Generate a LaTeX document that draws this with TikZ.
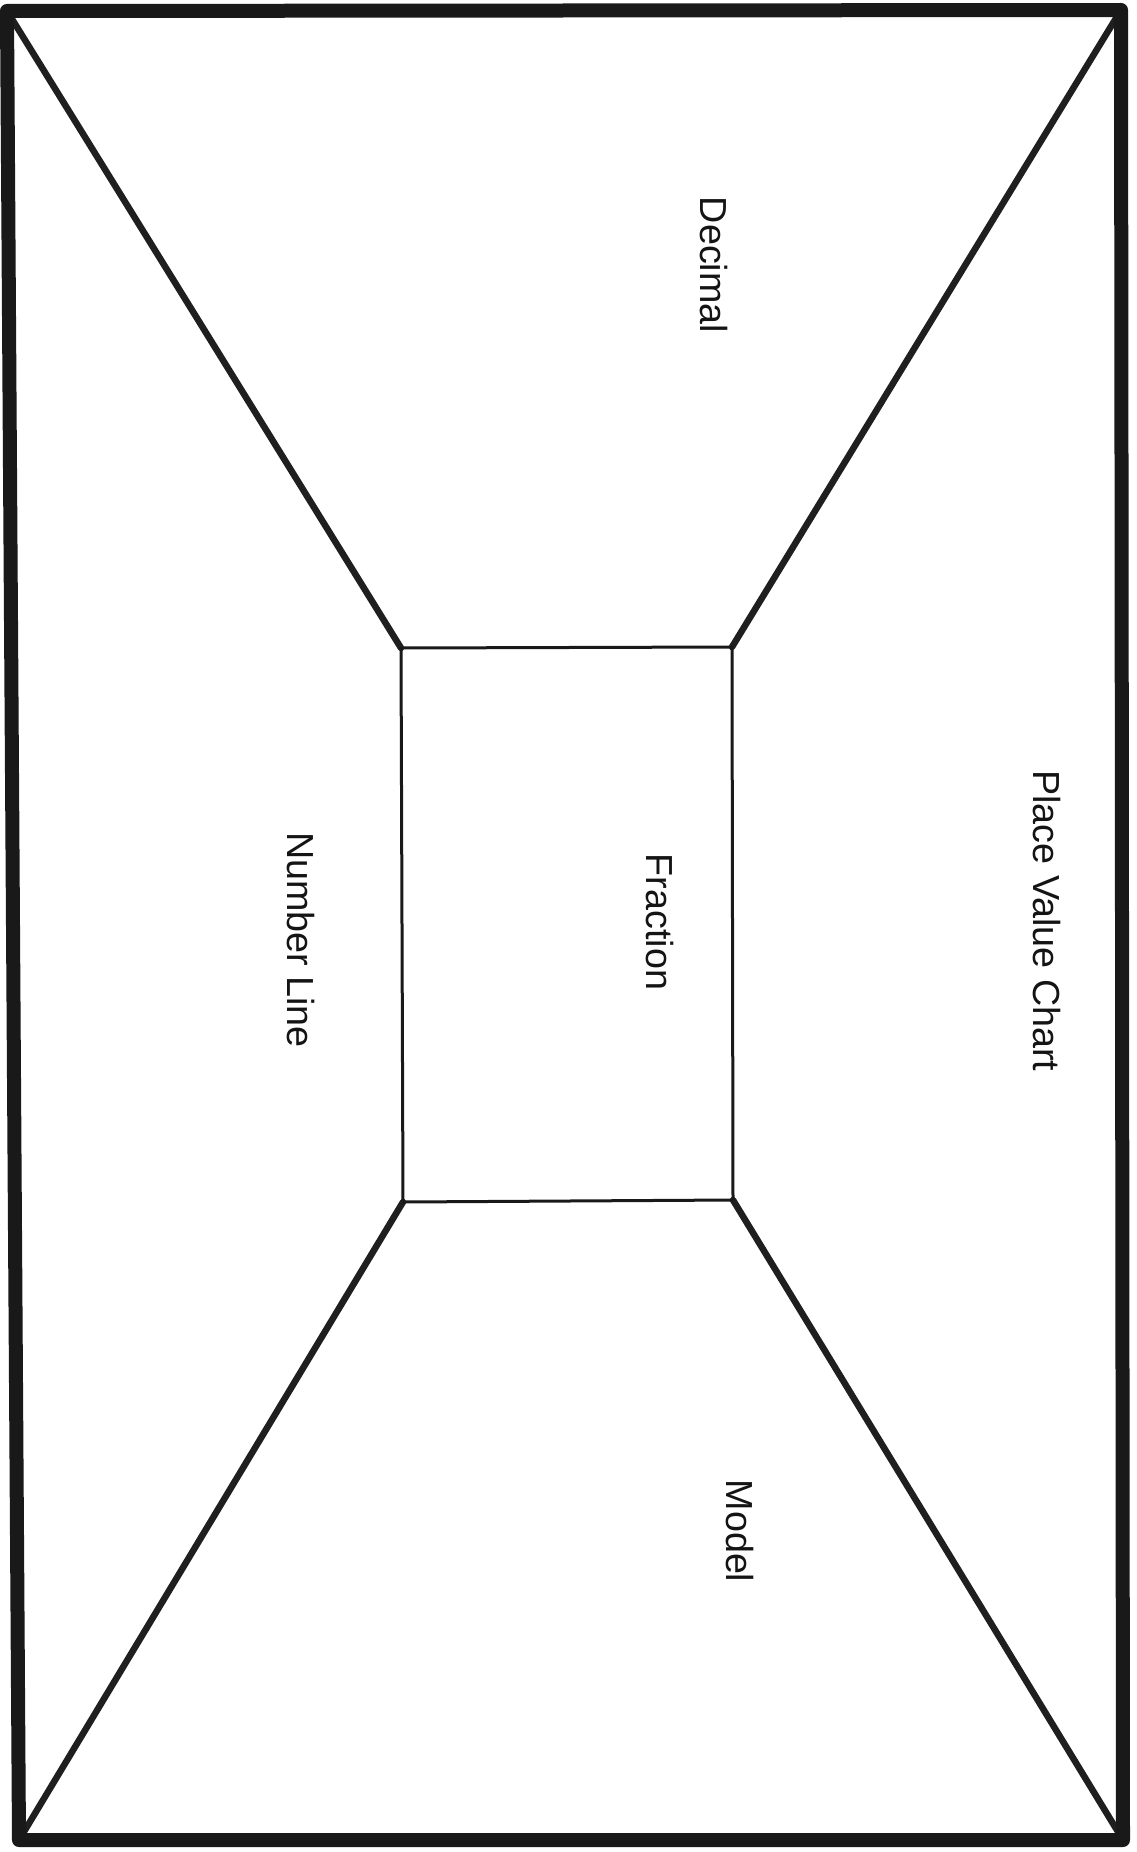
\documentclass[tikz,border=0pt]{standalone}
\usepackage{fontspec}
\setmainfont{Liberation Sans}
\usepackage{tikz}

\begin{document}
\begin{tikzpicture}[x=1pt, y=-1pt, line cap=round, line join=round,
    every node/.style={font=\fontsize{37.7}{40}\selectfont, inner sep=0pt, rotate=-90, text=black!92},
    frame/.style={line width=14pt, color=black!90},
    spoke/.style={line width=6.5pt, color=black!88},
    centre/.style={line width=3pt, color=black!90}]
  \useasboundingbox (0,0) rectangle (1136,1852);

  % outer frame
  \coordinate (o1) at (7,11);
  \coordinate (o2) at (1121,10);
  \coordinate (o3) at (1123,1840);
  \coordinate (o4) at (19,1840);
  % centre box
  \coordinate (i1) at (401,648);
  \coordinate (i2) at (732,647);
  \coordinate (i3) at (733,1200);
  \coordinate (i4) at (403,1202);

  \foreach \k in {1,...,4}
    \draw[spoke] (o\k) -- (i\k);
  \draw[centre] (i1) -- (i2) -- (i3) -- (i4) -- cycle;
  \draw[frame] (o1) -- (o2) -- (o3) -- (o4) -- cycle;

  \node (decimal) at (714,265) {Decimal};
  \node (fraction) at (660,922) {Fraction};
  \node (placevalue) at (1047,921) {Place Value Chart};
  \node (numberline) at (301,940) {Number Line};
  \node (model) at (740,1531) {Model};
\end{tikzpicture}
\end{document}
